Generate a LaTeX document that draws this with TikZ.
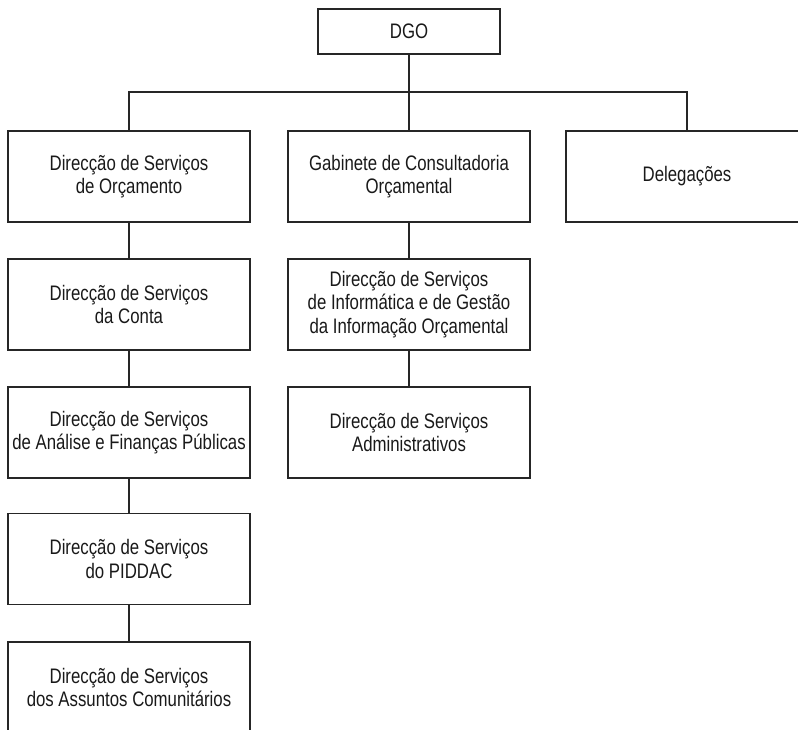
\documentclass[tikz,border=0pt]{standalone}
\usepackage{fontspec}
\setmainfont{Liberation Sans}[FakeStretch=0.8]
\usepackage{tikz}
\tikzstyle{unit} = [draw=black!85, line width=1.3pt, minimum width=242pt, minimum height=91pt, inner sep=0pt, align=center, text=black!90, font={\fontsize{21}{23.5}\selectfont}]
\tikzstyle{head} = [unit, minimum width=182pt, minimum height=45pt]
\tikzstyle{link} = [draw=black!85, line width=1.3pt]

\begin{document}
\begin{tikzpicture}[x=1pt,y=-1pt]
    \useasboundingbox (0,0) rectangle (798,730);
    \clip (0,0) rectangle (798,730);
    \node[head](dgo) at (409,31.5){DGO};
    \coordinate (bus) at (409,92);
    \node[unit](orc) at (129,176.5){Direcção de Serviços\\de Orçamento};
    \node[unit](gab) at (409,176.5){Gabinete de Consultadoria\\Orçamental};
    \node[unit](del) at (687,176.5){Delegações};
    \node[unit](conta) at (129,304.5){Direcção de Serviços\\da Conta};
    \node[unit](fin) at (129,432.5){Direcção de Serviços\\de Análise e Finanças Públicas};
    \node[unit](pid) at (129,559){Direcção de Serviços\\do PIDDAC};
    \node[unit](com) at (129,687.5){Direcção de Serviços\\dos Assuntos Comunitários};
    \node[unit](inf) at (409,304.5){Direcção de Serviços\\de Informática e de Gestão\\da Informação Orçamental};
    \node[unit](adm) at (409,432.5){Direcção de Serviços\\Administrativos};
    \draw[link](dgo)--(bus);
    \draw[link](orc.north)|-(bus)-|(del.north);
    \draw[link](bus)--(gab);
    \draw[link](orc)--(conta);
    \draw[link](conta)--(fin);
    \draw[link](fin)--(pid);
    \draw[link](pid)--(com);
    \draw[link](gab)--(inf);
    \draw[link](inf)--(adm);
  \end{tikzpicture}
\end{document}
